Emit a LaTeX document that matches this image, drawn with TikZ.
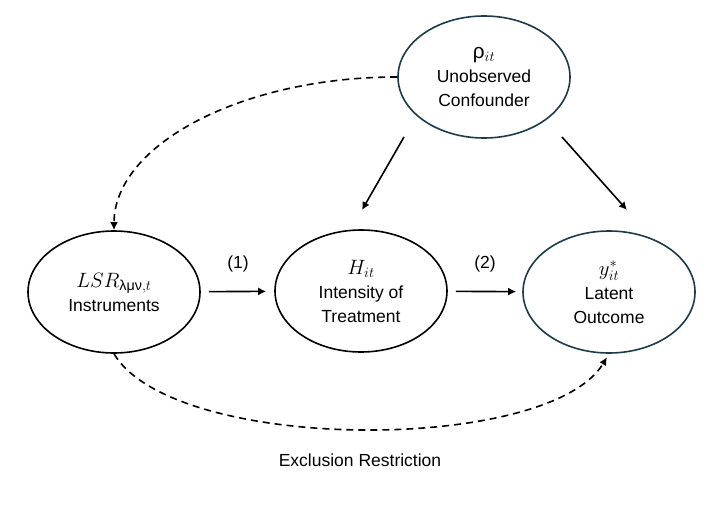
\documentclass[tikz,border=0pt]{standalone}
\usepackage{amsmath}
\usepackage{fontspec}
\setmainfont{Liberation Sans}
\DeclareMathSizes{20.74}{20.74}{14.4}{12}
\usetikzlibrary{shapes.geometric,arrows.meta}
\definecolor{navy}{HTML}{1B3A4B}

\begin{document}
\begin{tikzpicture}[x=1pt,y=-1pt,
  var/.style={ellipse, draw, line width=1.6pt, minimum width=172pt, minimum height=122pt, inner sep=0pt, align=center, font=\fontsize{17.5}{24}\selectfont},
  link/.style={line width=1.6pt, -{Latex[length=8pt,width=8pt]}},
  exclude/.style={link, dash pattern=on 7pt off 5pt},
  lbl/.style={font=\fontsize{17.5}{21}\selectfont}]
\useasboundingbox (0,0) rectangle (720,511);

% Variables
\node[var, draw=navy] (conf) at (484,77) {{\fontsize{20.74}{24}\selectfont ρ$_{it}$}\\Unobserved\\Confounder};
\node[var] (instr) at (114,292) {{\fontsize{20.74}{24}\selectfont $LSR_{\text{λμν},t}$}\\Instruments};
\node[var] (treat) at (361,291) {{\fontsize{20.74}{24}\selectfont $H_{it}$}\\Intensity of\\Treatment};
\node[var, draw=navy] (outc) at (609,292) {{\fontsize{20.74}{24}\selectfont $y^*_{it}$}\\Latent\\Outcome};

% Free ends of the confounder arrows
\coordinate (c1) at (404,137);
\coordinate (c2) at (362,210);
\coordinate (c3) at (562,137);
\coordinate (c4) at (627,210);

% Causal arrows
\draw[link, shorten <=8pt, shorten >=8pt] (instr) -- (treat);
\draw[link, shorten <=8pt, shorten >=6pt] (treat) -- (outc);
\draw[link] (c1) -- (c2);
\draw[link] (c3) -- (c4);

\node[lbl] (one) at (238,264) {(1)};
\node[lbl] (two) at (485,264) {(2)};

% Dashed paths
\draw[exclude] (conf.west) .. controls +(-156,0) and +(0,-85) .. (instr.north);
\draw[exclude, shorten >=4pt] (instr.south) .. controls +(60,100) and +(-60,100) .. (outc.south);

\node[lbl] (excl) at (360,460) {Exclusion Restriction};
\end{tikzpicture}
\end{document}
